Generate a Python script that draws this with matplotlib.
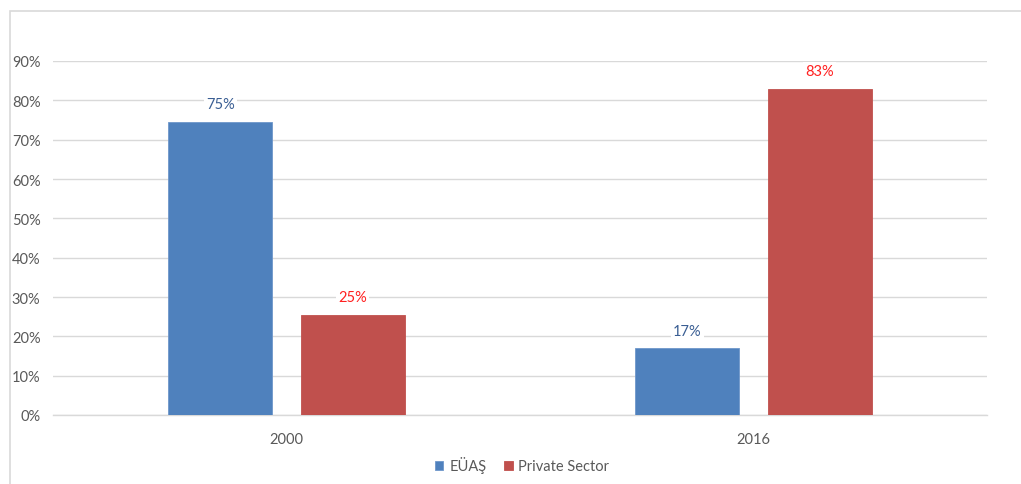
import matplotlib
matplotlib.use("Agg")
import matplotlib.pyplot as plt
from matplotlib.patches import Rectangle
import numpy as np

categories = ["2000", "2016"]
series_names = ["EÜAŞ", "Private Sector"]
euas = [0.746, 0.17]
private = [0.254, 0.83]
y_ticks = [0.0, 0.1, 0.2, 0.3, 0.4, 0.5, 0.6, 0.7, 0.8, 0.9]

plt.rcParams["font.family"] = ["Lato", "DejaVu Sans"]

W, H = 1021, 485
fig = plt.figure(figsize=(W / 100, H / 100), dpi=100)
fig.patch.set_facecolor("white")

# chart frame
fig.patches.append(Rectangle((10 / W, -0.1), 1.2, (H - 12) / H + 0.1,
                             transform=fig.transFigure, fill=False,
                             edgecolor="#D9D9D9", linewidth=1.2))

ax = fig.add_axes([53 / W, 69 / H, (987 - 53) / W, (416 - 62) / H])

x = np.arange(len(categories))
bw = 0.223
off = 0.1416
blue, red = "#4F81BD", "#C0504D"
fs = 10.5
b1 = ax.bar(x - off, euas, bw, color=blue, edgecolor="#6E97CB", linewidth=0.6,
            label=series_names[0], zorder=3)
b2 = ax.bar(x + off, private, bw, color=red, edgecolor=red, linewidth=0.6,
            label=series_names[1], zorder=3)

for rect, v in zip(b1, euas):
    ax.text(rect.get_x() + rect.get_width() / 2, v + 0.027, f"{v:.0%}",
            ha="center", va="bottom", fontsize=fs, color="#3A5E93", zorder=4,
            bbox=dict(facecolor="white", edgecolor="none", pad=1.5))
for rect, v in zip(b2, private):
    ax.text(rect.get_x() + rect.get_width() / 2, v + 0.027, f"{v:.0%}",
            ha="center", va="bottom", fontsize=fs, color="#FF2020", zorder=4,
            bbox=dict(facecolor="white", edgecolor="none", pad=1.5))

ax.set_xlim(-0.5, 1.5)
ax.set_ylim(0, 0.9)
ax.set_xticks(x)
ax.set_xticklabels(categories)
ax.set_yticks(y_ticks)
ax.set_yticklabels([f"{t:.0%}" for t in y_ticks])
ax.tick_params(axis="both", length=0, labelsize=fs, labelcolor="#595959")
ax.tick_params(axis="y", pad=9)
ax.tick_params(axis="x", pad=12)
ax.grid(axis="y", color="#D9D9D9", linewidth=1, zorder=0)
for s in ["top", "right", "left"]:
    ax.spines[s].set_visible(False)
ax.spines["bottom"].set_color("#D9D9D9")
ax.spines["bottom"].set_linewidth(1)
ax.set_axisbelow(True)

leg = fig.legend(handles=[b1, b2], labels=series_names, loc="center",
                 bbox_to_anchor=(522 / W, 1 - 466 / H), ncol=2, frameon=False,
                 fontsize=fs, handlelength=0.6, handleheight=0.6,
                 handletextpad=0.4, columnspacing=1.2)
for t in leg.get_texts():
    t.set_color("#595959")

fig.savefig("out.png", dpi=100, facecolor="white")
